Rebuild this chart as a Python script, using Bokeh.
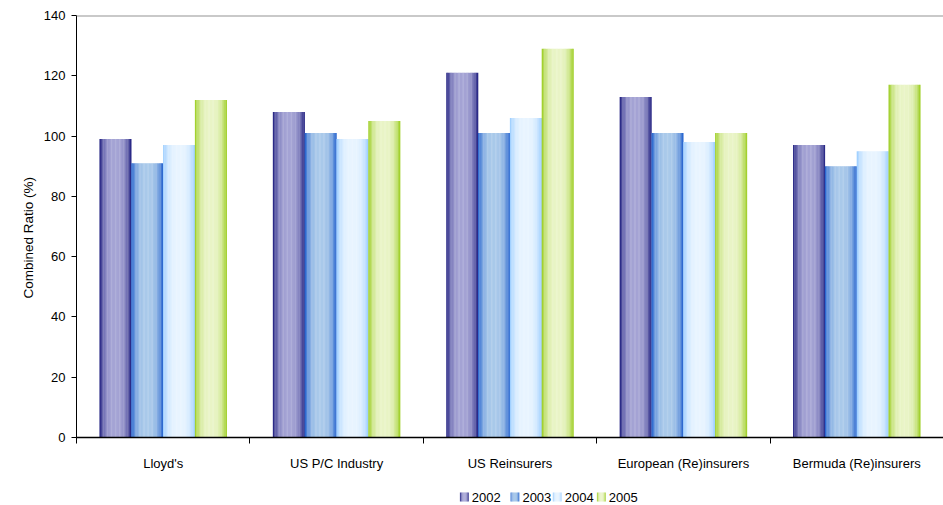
import numpy as np
from bokeh.plotting import figure
from bokeh.models import (Range1d, FixedTicker, Span, ColumnDataSource,
                          CustomJSTickFormatter, Title)
from bokeh.layouts import column
from bokeh.core.properties import value
from bokeh.embed import file_html
from bokeh.resources import INLINE

# Combined ratios by market segment and year
categories = ["Lloyd's", "US P/C Industry", "US Reinsurers",
              "European (Re)insurers", "Bermuda (Re)insurers"]
years = ["2002", "2003", "2004", "2005"]
ratio_2002 = [99, 108, 121, 113, 97]
ratio_2003 = [91, 101, 101, 101, 90]
ratio_2004 = [97, 99, 106, 98, 95]
ratio_2005 = [112, 105, 129, 101, 117]
y_ticks = [0, 20, 40, 60, 80, 100, 120, 140]

series = [ratio_2002, ratio_2003, ratio_2004, ratio_2005]

# edge / centre colours of the cylinder-like shading of each series
edge_colors = ["#1b1a7c", "#1c5ccc", "#99ccff", "#99cc1a"]
center_colors = ["#a4a3d4", "#a9c9ea", "#e8f4ff", "#e9f4c6"]

FONT = "Liberation Sans"
BAR_W = 0.1835
STRIPS = 24


def hex_rgb(h):
    h = h.lstrip("#")
    return np.array([int(h[i:i + 2], 16) for i in (0, 2, 4)], dtype=float)


def shade(edge, center, t):
    f = 1.0 - abs(2.0 * t - 1.0) ** 3
    c = hex_rgb(edge) * (1 - f) + hex_rgb(center) * f
    return "#%02x%02x%02x" % tuple(int(round(v)) for v in c)


# thin vertical strips give each bar a horizontal gradient
xs, tops, colors = [], [], []
for j, vals in enumerate(series):
    for k in range(STRIPS):
        t = (k + 0.5) / STRIPS
        col = shade(edge_colors[j], center_colors[j], t)
        for i, v in enumerate(vals):
            xs.append(i + 0.5 + (j - 1.5) * BAR_W + (t - 0.5) * BAR_W)
            tops.append(v)
            colors.append(col)
bars = ColumnDataSource(dict(x=xs, top=tops, color=colors))

p = figure(width=943, height=480, output_backend="svg", toolbar_location=None,
           x_range=Range1d(0, len(categories)), y_range=Range1d(0, 140),
           min_border_left=76, min_border_right=0, min_border_top=15,
           min_border_bottom=43)
p.vbar(x="x", top="top", bottom=0, width=BAR_W / STRIPS * 1.2, color="color",
       line_color=None, source=bars)

p.xgrid.visible = False
p.ygrid.visible = False
p.outline_line_color = None
p.background_fill_color = "white"
p.border_fill_color = "white"

p.add_layout(Span(location=140, dimension="width", line_color="#939393", line_width=2))

yax = p.yaxis[0]
yax.ticker = FixedTicker(ticks=y_ticks)
yax.axis_line_color = "black"
yax.major_tick_line_color = "black"
yax.major_tick_out = 5
yax.major_tick_in = 0
yax.minor_tick_line_color = None
yax.major_label_standoff = 6
yax.major_label_text_font = FONT
yax.major_label_text_font_size = "13px"
yax.major_label_text_color = "black"

# vertical axis title, sitting a little below the middle of the axis
p.add_layout(Title(text="Combined Ratio (%)", align="left", offset=139,
                   standoff=10, text_font=FONT, text_font_size="13.5px",
                   text_font_style="normal", text_color="black"), "left")

xax = p.xaxis[0]
xax.ticker = FixedTicker(ticks=[i + 0.5 for i in range(len(categories))],
                         minor_ticks=list(range(len(categories) + 1)))
xax.formatter = CustomJSTickFormatter(args=dict(cats=categories),
                                      code="return cats[Math.floor(tick)] || '';")
xax.axis_line_color = "black"
xax.axis_line_width = 1.5
xax.major_tick_line_color = None
xax.major_tick_out = 0
xax.major_tick_in = 0
xax.minor_tick_line_color = "black"
xax.minor_tick_out = 6
xax.minor_tick_in = 0
xax.major_label_standoff = 12
xax.major_label_text_font = FONT
xax.major_label_text_font_size = "13px"
xax.major_label_text_color = "black"

# legend strip below the chart
lg = figure(width=943, height=25, output_backend="svg", toolbar_location=None,
            x_range=Range1d(0, 943), y_range=Range1d(0, 25),
            x_axis_location=None, y_axis_location=None, min_border=0)
lg.xgrid.visible = False
lg.ygrid.visible = False
lg.outline_line_color = None

swatch_left = [417, 472, 518, 566]
SW = 9.5
sl, sr, sc = [], [], []
for j in range(len(years)):
    for k in range(8):
        t = (k + 0.5) / 8
        sl.append(swatch_left[j] + k * SW / 8)
        sr.append(swatch_left[j] + (k + 1.2) * SW / 8)
        sc.append(shade(edge_colors[j], center_colors[j], t))
lg.quad(left=sl, right=sr, bottom=4, top=13, color=sc, line_color=None)
lg.text(x=[s + 13 for s in swatch_left], y=[8.5] * len(years), text=years,
        text_font=value(FONT), text_font_size="13px", text_baseline="middle",
        text_color="black")

layout = column(p, lg, spacing=0)
open("out.html", "w").write(file_html(layout, INLINE))
